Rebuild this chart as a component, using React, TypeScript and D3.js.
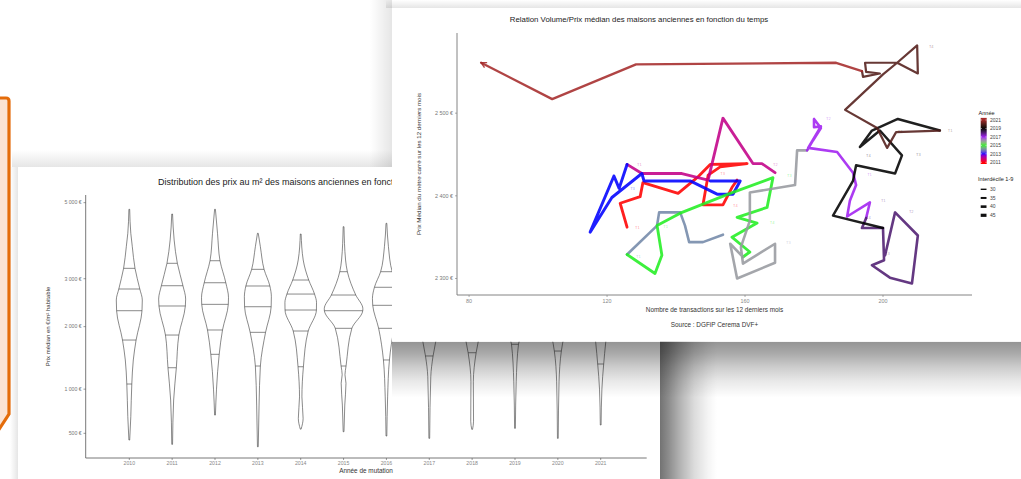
import React from "react";
import * as d3 from "d3";

const W = 1021;
const H = 479;

// ---------- Violin chart (left panel) ----------
const violinYears = [2010, 2011, 2012, 2013, 2014, 2015, 2016, 2017, 2018, 2019, 2020, 2021];
const violinTickValues = [500, 1000, 2000, 3000, 5000];
const violinTickLabels = ["500 €", "1 000 €", "2 000 €", "3 000 €", "5 000 €"];
// quantile lines per year: [price, relative density]
const violinQuantiles: number[][][] = [
  [[3243, 0.285], [2768, 0.525], [2310, 0.635], [1757, 0.34], [1069, 0.125]],
  [[3364, 0.26], [2841, 0.54], [2406, 0.66], [1846, 0.335], [1304, 0.21]],
  [[3427, 0.25], [2908, 0.54], [2440, 0.665], [1938, 0.375], [1515, 0.21]],
  [[3219, 0.31], [2835, 0.6], [2391, 0.665], [1895, 0.385], [1330, 0.125]],
  [[2970, 0.4], [2658, 0.69], [2324, 0.785], [1919, 0.375], [1319, 0.135]],
  [[3163, 0.19], [2637, 0.61], [2310, 0.96], [1969, 0.415], [1330, 0.125]],
  [[3163, 0.29], [2806, 0.6], [2420, 0.685], [1969, 0.39], [1424, 0.15]],
  [[3300, 0.3], [2850, 0.6], [2420, 0.68], [1950, 0.45], [1488, 0.19]],
  [[3350, 0.3], [2900, 0.6], [2450, 0.68], [1980, 0.45], [1541, 0.2]],
  [[3400, 0.3], [2950, 0.6], [2500, 0.68], [2050, 0.5], [1683, 0.175]],
  [[3450, 0.3], [3000, 0.6], [2550, 0.68], [2080, 0.45], [1569, 0.175]],
  [[3500, 0.3], [3050, 0.6], [2600, 0.68], [2100, 0.4], [1361, 0.15]],
];
// other outline points per year: [price, relative density]
const violinOutline: number[][][] = [
  [[4805, 0.02], [4133, 0.075], [3780, 0.15], [2531, 0.65], [1424, 0.2], [668, 0.075], [439, 0.02]],
  [[4669, 0.02], [3954, 0.1], [2550, 0.675], [861, 0.075], [402, 0.02]],
  [[4805, 0.02], [4133, 0.125], [2580, 0.675], [1000, 0.075], [686, 0.02]],
  [[4133, 0.02], [3780, 0.125], [2600, 0.675], [800, 0.06], [382, 0.02]],
  [[4114, 0.02], [3445, 0.125], [2480, 0.79], [900, 0.06], [650, 0.12], [540, 0.02]],
  [[4313, 0.02], [3445, 0.1], [2350, 0.965], [1200, 0.07], [1080, 0.12], [800, 0.06], [515, 0.02]],
  [[4407, 0.02], [3780, 0.1], [2560, 0.7], [900, 0.06], [475, 0.02]],
  [[4600, 0.02], [3900, 0.1], [2600, 0.7], [1172, 0.075], [454, 0.02]],
  [[4600, 0.02], [3900, 0.1], [2650, 0.7], [1100, 0.06], [620, 0.07], [538, 0.02]],
  [[4700, 0.02], [4000, 0.1], [2700, 0.7], [1100, 0.06], [548, 0.02]],
  [[4700, 0.02], [4000, 0.1], [2750, 0.7], [1100, 0.06], [454, 0.02]],
  [[4800, 0.02], [4100, 0.1], [2800, 0.7], [1000, 0.06], [581, 0.02]],
];

// ---------- Path chart (right panel) ----------
const pathYears = [2011, 2012, 2013, 2014, 2015, 2016, 2017, 2018, 2019, 2020, 2021];
const path2011 = [[125.8, 2362], [123.8, 2391], [129.6, 2399], [130.4, 2416], [140.6, 2403], [146.1, 2422], [149.9, 2438], [160.6, 2439], [152.8, 2435], [149.3, 2425], [147.8, 2389], [153.6, 2389], [156.2, 2410], [157.7, 2419]];
const path2012 = [[168.7, 2428], [164.9, 2439], [162.3, 2439], [153.6, 2494], [149.3, 2419], [141.7, 2427], [130.1, 2427], [125.8, 2438]];
const path2013 = [[125.8, 2438], [123.5, 2409], [122.0, 2424], [115.1, 2356], [121.4, 2398], [130.1, 2427], [130.7, 2418], [144.1, 2418], [151.9, 2402], [156.5, 2402], [158.6, 2418], [149.9, 2418]];
const path2014 = [[125.8, 2329], [134.5, 2364], [135.1, 2380], [141.2, 2380], [142.6, 2364], [143.8, 2344], [147.8, 2344], [153.6, 2353]];
const path2015 = [[125.8, 2329], [133.9, 2306], [135.9, 2328], [134.5, 2364], [141.2, 2379], [155.7, 2403], [168.1, 2422], [166.4, 2386], [157.7, 2374], [163.5, 2367], [156.2, 2350], [161.4, 2332], [159.4, 2326]];
const path2016 = [[159.4, 2326], [155.7, 2342], [157.7, 2300], [168.7, 2319], [168.7, 2342], [159.4, 2318], [158.8, 2338], [161.4, 2370], [161.4, 2404], [174.5, 2413], [175.1, 2455], [178.0, 2455]];
const path2017 = [[178.0, 2455], [179.7, 2467], [182.0, 2482], [180.0, 2493], [180.0, 2483], [182.0, 2484], [178.3, 2458], [186.7, 2453], [191.3, 2428], [192.2, 2413], [190.4, 2394], [189.6, 2375], [196.2, 2392], [195.1, 2373]];
const path2018 = [[195.1, 2373], [193.9, 2361], [200.0, 2361], [200.3, 2322], [196.8, 2316], [202.0, 2301], [208.4, 2294], [210.1, 2352], [203.5, 2380], [200.6, 2328]];
const path2019 = [[200.0, 2361], [185.5, 2376], [191.3, 2418], [192.2, 2437], [203.5, 2427], [205.5, 2449], [199.1, 2479], [193.3, 2459], [196.8, 2479], [204.3, 2493], [216.5, 2479]];
const path2020 = [[216.5, 2479], [203.8, 2477], [201.2, 2458], [198.3, 2482], [189.0, 2504], [200.0, 2547], [204.1, 2561], [209.9, 2582], [210.1, 2548], [204.1, 2561], [194.8, 2561], [195.1, 2550], [199.1, 2548], [194.2, 2544], [193.9, 2551]];
const path2021 = [[193.9, 2551], [186.4, 2561], [128.4, 2559], [104.1, 2517], [83.5, 2561]];
const yearPaths = [path2011, path2012, path2013, path2014, path2015, path2016, path2017, path2018, path2019, path2020, path2021];
const interdecile = [42, 42, 43, 40, 42, 40, 40, 40, 39, 37, 38];

const xTicks = [80, 120, 160, 200];
const yTicks = [2300, 2400, 2500];
const yTickLabels = ["2 300 €", "2 400 €", "2 500 €"];

const colorYears = [2011, 2013, 2015, 2017, 2019, 2021];
const colorStops = ["#ff0000", "#0000ff", "#22ee22", "#a020f0", "#000000", "#a52a2a"];
const legendYears = [2021, 2019, 2017, 2015, 2013, 2011];
const legendSizes = [30, 35, 40, 45];

// quarter labels: [transactions, price, label, year]
const quarterLabels: [number, number, string, number][] = [
  [128.1, 2362, "T1", 2011], [128.7, 2438, "T1", 2012], [126.7, 2409, "T3", 2013],
  [156.5, 2388, "T4", 2011], [152.8, 2427, "T3", 2011], [168.1, 2438, "T2", 2012],
  [172.2, 2425, "T3", 2015], [136.3, 2363, "T1", 2015], [128.4, 2327, "T1", 2014],
  [171.9, 2344, "T3", 2016], [167.2, 2368, "T4", 2015], [183.5, 2493, "T2", 2017],
  [195.4, 2426, "T1", 2017], [195.1, 2449, "T4", 2019], [209.6, 2450, "T3", 2019],
  [199.4, 2394, "T1", 2018], [195.1, 2374, "T4", 2018], [207.5, 2381, "T2", 2018],
  [204.3, 2478, "T2", 2020], [218.8, 2479, "T1", 2020], [213.3, 2581, "T4", 2020],
  [200.6, 2330, "T3", 2018],
];

const FONT = "'Liberation Sans', Arial, sans-serif";

export default function App() {
  // violin scales
  const vx = d3.scalePoint<number>().domain(violinYears).range([129.3, 600.7]);
  const vy = d3.scaleSqrt().domain([0, 5230]).range([540, 195]);
  const vw = d3.scaleLinear().domain([0, 1]).range([0, 20]);

  // path chart scales
  const px = d3.scaleLinear().domain([76.5, 225.8]).range([457, 972]);
  const py = d3.scaleLinear().domain([2280, 2597]).range([295, 33]);
  const color = d3
    .scaleLinear<string>()
    .domain(colorYears)
    .range(colorStops)
    .interpolate(d3.interpolateLab)
    .clamp(true);
  const lw = d3.scaleLinear().domain([30, 45]).range([1.4, 3.2]);
  const line = d3.line<number[]>().x((d) => px(d[0])).y((d) => py(d[1]));
  const legendY = d3.scaleLinear().domain([2011, 2021]).range([162.3, 120]);
  const legendSizeY = d3.scalePoint<number>().domain(legendSizes).range([189.3, 215.3]);

  const barTop = legendY(2021.5);
  const barBot = legendY(2010.6);
  const gradStops = d3.range(2010.6, 2021.51, 0.25);

  // arrow at end of 2021
  const last = path2021[path2021.length - 1];
  const prev = path2021[path2021.length - 2];
  const ex = px(last[0]);
  const ey = py(last[1]);
  const ang = Math.atan2(ey - py(prev[1]), ex - px(prev[0]));
  const aLen = 6;
  const a1x = ex - aLen * Math.cos(ang - 0.5);
  const a1y = ey - aLen * Math.sin(ang - 0.5);
  const a2x = ex - aLen * Math.cos(ang + 0.5);
  const a2y = ey - aLen * Math.sin(ang + 0.5);

  return (
    <svg
      width={W}
      height={H}
      viewBox={`0 0 ${W} ${H}`}
      style={{ position: "absolute", left: 0, top: 0, display: "block", background: "#ffffff" }}
      fontFamily={FONT}
    >
      <defs>
        <linearGradient id="vpRight" x1="0" y1="0" x2="1" y2="0">
          <stop offset="0" stopColor="#000" stopOpacity={0.55} />
          <stop offset="0.15" stopColor="#000" stopOpacity={0.45} />
          <stop offset="0.35" stopColor="#000" stopOpacity={0.3} />
          <stop offset="0.6" stopColor="#000" stopOpacity={0.14} />
          <stop offset="0.85" stopColor="#000" stopOpacity={0.04} />
          <stop offset="1" stopColor="#000" stopOpacity={0} />
        </linearGradient>
        <linearGradient id="rpBottom" x1="0" y1="0" x2="0" y2="1">
          <stop offset="0" stopColor="#000" stopOpacity={0.42} />
          <stop offset="0.2" stopColor="#000" stopOpacity={0.34} />
          <stop offset="0.45" stopColor="#000" stopOpacity={0.2} />
          <stop offset="0.7" stopColor="#000" stopOpacity={0.09} />
          <stop offset="1" stopColor="#000" stopOpacity={0} />
        </linearGradient>
        <linearGradient id="softDown" x1="0" y1="0" x2="0" y2="1">
          <stop offset="0" stopColor="#000" stopOpacity={0} />
          <stop offset="1" stopColor="#000" stopOpacity={0.1} />
        </linearGradient>
        <linearGradient id="softRight" x1="0" y1="0" x2="1" y2="0">
          <stop offset="0" stopColor="#000" stopOpacity={0} />
          <stop offset="1" stopColor="#000" stopOpacity={0.1} />
        </linearGradient>
        <linearGradient id="cbar" x1="0" y1={barBot} x2="0" y2={barTop} gradientUnits="userSpaceOnUse">
          {gradStops.map((yr, i) => (
            <stop key={i} offset={(yr - 2010.6) / (2021.5 - 2010.6)} stopColor={color(yr)} />
          ))}
        </linearGradient>
      </defs>

      {/* orange slide element on the left */}
      <path d="M -4 98 L 6 98 Q 9 98 9 101 L 9 414 L -2 431 L -4 431 Z" fill="#fbe3d3" />
      <path d="M -4 98 L 6 98 Q 9 98 9 101 L 9 414 L -2 431" fill="none" stroke="#e46c0a" strokeWidth={3.2} />

      {/* shadows around the violin panel */}
      <rect x={12} y={150} width={380} height={17} fill="url(#softDown)" />
      <rect x={10} y={167} width={8} height={312} fill="url(#softRight)" />

      {/* ---------- violin panel ---------- */}
      <rect x={18} y={167} width={642} height={312} fill="#ffffff" />
      <text x={158} y={185} fontSize={9} fill="#222">
        Distribution des prix au m² des maisons anciennes en fonction du temps
      </text>
      {violinYears.map((yr, i) => {
        const cx = vx(yr) as number;
        const pts = [...violinOutline[i], ...violinQuantiles[i]].sort((a, b) => b[0] - a[0]);
        const area = d3
          .area<number[]>()
          .curve(d3.curveMonotoneY)
          .y((d) => vy(d[0]))
          .x0((d) => cx - vw(d[1]))
          .x1((d) => cx + vw(d[1]));
        return (
          <g key={yr}>
            <path d={area(pts) || ""} fill="#ffffff" stroke="#3a3a3a" strokeWidth={0.6} />
            {violinQuantiles[i].map((q, j) => (
              <line
                key={j}
                x1={cx - vw(q[1])}
                x2={cx + vw(q[1])}
                y1={vy(q[0])}
                y2={vy(q[0])}
                stroke="#3a3a3a"
                strokeWidth={0.6}
              />
            ))}
          </g>
        );
      })}
      <line x1={85.7} x2={85.7} y1={vy(5230)} y2={458} stroke="#555" strokeWidth={0.8} />
      <line x1={85.7} x2={646.7} y1={458} y2={458} stroke="#555" strokeWidth={0.8} />
      {violinTickValues.map((v, i) => (
        <g key={v}>
          <line x1={83.5} x2={85.7} y1={vy(v)} y2={vy(v)} stroke="#555" strokeWidth={0.6} />
          <text x={81.7} y={vy(v) + 1.8} fontSize={5.2} fill="#777" textAnchor="end">
            {violinTickLabels[i]}
          </text>
        </g>
      ))}
      {violinYears.map((yr) => (
        <g key={yr}>
          <line x1={vx(yr) as number} x2={vx(yr) as number} y1={458} y2={460} stroke="#555" strokeWidth={0.6} />
          <text x={vx(yr) as number} y={465} fontSize={5.2} fill="#888" textAnchor="middle">
            {yr}
          </text>
        </g>
      ))}
      <text x={366} y={473} fontSize={6.4} fill="#333" textAnchor="middle">
        Année de mutation
      </text>
      <text
        transform="translate(50,326.5) rotate(-90)"
        fontSize={6}
        fill="#333"
        textAnchor="middle"
      >
        Prix médian en €/m² habitable
      </text>

      {/* violin panel right shadow */}
      <rect x={660} y={167} width={57} height={312} fill="url(#vpRight)" />

      {/* ---------- right panel shadows ---------- */}
      <rect x={386} y={0} width={635} height={8} fill="url(#softDown)" />
      <rect x={370} y={0} width={22} height={167} fill="url(#softRight)" />
      <rect x={392} y={341.7} width={629} height={56} fill="url(#rpBottom)" />

      {/* ---------- right panel ---------- */}
      <rect x={392} y={8} width={629} height={333.7} fill="#ffffff" />
      <text x={639} y={22} fontSize={7.8} fill="#222" textAnchor="middle">
        Relation Volume/Prix médian des maisons anciennes en fonction du temps
      </text>

      <line x1={457} x2={457} y1={33} y2={295} stroke="#777" strokeWidth={0.9} />
      <line x1={457} x2={972} y1={295} y2={295} stroke="#777" strokeWidth={0.9} />
      {yTicks.map((v, i) => (
        <g key={v}>
          <line x1={455} x2={457} y1={py(v)} y2={py(v)} stroke="#777" strokeWidth={0.6} />
          <text x={453} y={py(v) + 1.8} fontSize={5.4} fill="#777" textAnchor="end">
            {yTickLabels[i]}
          </text>
        </g>
      ))}
      {xTicks.map((v) => (
        <g key={v}>
          <line x1={px(v)} x2={px(v)} y1={295} y2={297} stroke="#777" strokeWidth={0.6} />
          <text x={px(v)} y={303} fontSize={5.4} fill="#888" textAnchor="middle">
            {v}
          </text>
        </g>
      ))}
      <text x={714.5} y={312} fontSize={6.4} fill="#333" textAnchor="middle">
        Nombre de transactions sur les 12 derniers mois
      </text>
      <text x={714.5} y={327} fontSize={6.4} fill="#333" textAnchor="middle">
        Source : DGFiP Cerema DVF+
      </text>
      <text
        transform="translate(421,164) rotate(-90)"
        fontSize={6.2}
        fill="#333"
        textAnchor="middle"
      >
        Prix Médian du mètre carré sur les 12 derniers mois
      </text>

      {/* year paths */}
      {yearPaths.map((p, i) => (
        <path
          key={pathYears[i]}
          d={line(p) || ""}
          fill="none"
          stroke={color(pathYears[i])}
          strokeWidth={lw(interdecile[i])}
          strokeLinejoin="round"
          strokeLinecap="round"
          strokeOpacity={0.88}
        />
      ))}
      <path
        d={`M ${a1x} ${a1y} L ${ex} ${ey} L ${a2x} ${a2y}`}
        fill="none"
        stroke={color(2021)}
        strokeWidth={1.4}
        strokeOpacity={0.88}
      />
      {quarterLabels.map((q, i) => (
        <text
          key={i}
          x={px(q[0])}
          y={py(q[1]) + 1.5}
          fontSize={4}
          fill={color(q[3])}
          fillOpacity={0.45}
        >
          {q[2]}
        </text>
      ))}

      {/* legend */}
      <text x={978.5} y={115} fontSize={5.6} fill="#222">
        Année
      </text>
      <rect x={980.7} y={barTop} width={6} height={barBot - barTop} fill="url(#cbar)" />
      {legendYears.map((yr) => (
        <g key={yr}>
          <line x1={980.7} x2={982} y1={legendY(yr)} y2={legendY(yr)} stroke="#fff" strokeWidth={0.5} />
          <line x1={985.4} x2={986.7} y1={legendY(yr)} y2={legendY(yr)} stroke="#fff" strokeWidth={0.5} />
          <text x={990} y={legendY(yr) + 1.7} fontSize={5} fill="#444">
            {yr}
          </text>
        </g>
      ))}
      <text x={978} y={181} fontSize={5.6} fill="#222">
        Interdécile 1-9
      </text>
      {legendSizes.map((s) => (
        <g key={s}>
          <line
            x1={980.7}
            x2={986.5}
            y1={legendSizeY(s) as number}
            y2={legendSizeY(s) as number}
            stroke="#111"
            strokeWidth={lw(s)}
          />
          <text x={990} y={(legendSizeY(s) as number) + 1.7} fontSize={5} fill="#444">
            {s}
          </text>
        </g>
      ))}
    </svg>
  );
}
